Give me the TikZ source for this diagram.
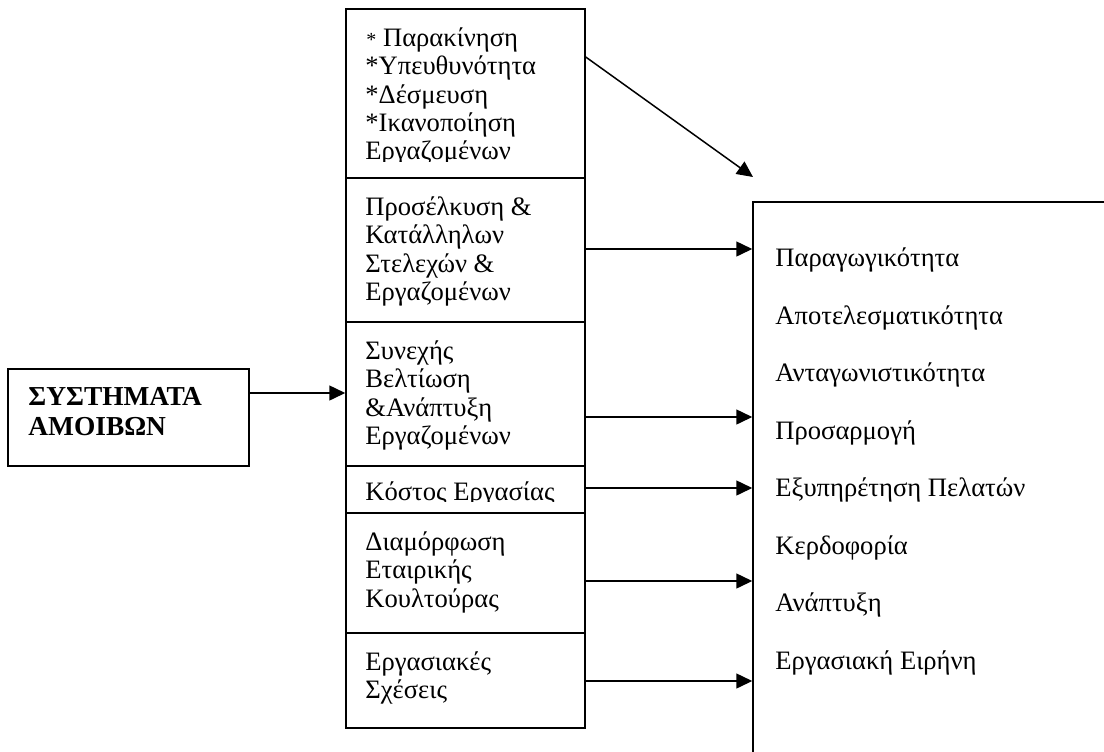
\documentclass[tikz,border=0pt]{standalone}
\usepackage{fontspec}
\setmainfont{Liberation Serif}
\usetikzlibrary{arrows.meta,fit}
\begin{document}
\begin{tikzpicture}[x=0.5pt,y=-0.5pt,
  box/.style={draw,line width=0.75pt,inner sep=0pt},
  txt/.style={anchor=base west,inner sep=0pt,font=\fontsize{13.3}{15}\selectfont},
  btxt/.style={anchor=base west,inner sep=0pt,font=\fontsize{13.7}{15}\selectfont\bfseries},
  arr/.style={line width=0.75pt,-{Triangle[length=8pt,width=7.5pt]}}]
\useasboundingbox (0,0) rectangle (1104,751);
\fill[white] (0,0) rectangle (1104,751);
\clip (0,0) rectangle (1104,751);

% left box
\node[box,fit={(8,369) (249,466)}] (sys) {};
\node[btxt] (s1) at (28,405) {ΣΥΣΤΗΜΑΤΑ};
\node[btxt] (s2) at (28,435) {ΑΜΟΙΒΩΝ};

% middle cells
\node[box,fit={(346,9) (585,178)}] (c1) {};
\node[box,fit={(346,178) (585,322)}] (c2) {};
\node[box,fit={(346,322) (585,466)}] (c3) {};
\node[box,fit={(346,466) (585,513)}] (c4) {};
\node[box,fit={(346,513) (585,633)}] (c5) {};
\node[box,fit={(346,633) (585,728)}] (c6) {};

\node[txt] (c1t1) at (366,46.5) {{\fontsize{10}{12}\selectfont*} Παρακίνηση};
\foreach \t [count=\i from 2] in {*Υπευθυνότητα,*Δέσμευση,*Ικανοποίηση}
  \node[txt] (c1t\i) at (365,{46.5+28.3*(\i-1)}) {\t};
\begin{scope}
  \clip (346,140) rectangle (585,161.5);
  \node[txt] (c1t5) at (365,159.7) {Εργαζομένων};
\end{scope}
\foreach \t [count=\i] in {Προσέλκυση \&,Κατάλληλων,Στελεχών \&,Εργαζομένων}
  \node[txt] (c2t\i) at (365,{215.5+28.3*(\i-1)}) {\t};
\foreach \t [count=\i] in {Συνεχής,Βελτίωση,\&Ανάπτυξη,Εργαζομένων}
  \node[txt] (c3t\i) at (365,{359.5+28.3*(\i-1)}) {\t};
\begin{scope}
  \clip (346,470) rectangle (585,501.5);
  \node[txt] (c4t1) at (365,500) {Κόστος Εργασίας};
\end{scope}
\foreach \t [count=\i] in {Διαμόρφωση,Εταιρικής,Κουλτούρας}
  \node[txt] (c5t\i) at (365,{550.5+28.3*(\i-1)}) {\t};
\foreach \t [count=\i] in {Εργασιακές,Σχέσεις}
  \node[txt] (c6t\i) at (365,{670.5+28.3*(\i-1)}) {\t};

% right box
\node[box,fit={(753,202) (1130,780)}] (R) {};
\foreach \t [count=\i] in {Παραγωγικότητα,Αποτελεσματικότητα,Ανταγωνιστικότητα,Προσαρμογή,Εξυπηρέτηση Πελατών,Κερδοφορία,Ανάπτυξη,Εργασιακή Ειρήνη}
  \node[txt] (r\i) at (775,{266.7+57.5*(\i-1)}) {\t};

% connectors
\coordinate (y0) at (0,393);
\coordinate (y1) at (0,57);
\coordinate (tip) at (753,177);
\coordinate (y2) at (0,249);
\coordinate (y3) at (0,417);
\coordinate (y4) at (0,488);
\coordinate (y5) at (0,581);
\coordinate (y6) at (0,681);
\draw[arr] (sys.east |- y0) -- (c3.west |- y0);
\draw[arr] (c1.east |- y1) -- (tip);
\draw[arr] (c2.east |- y2) -- (R.west |- y2);
\draw[arr] (c3.east |- y3) -- (R.west |- y3);
\draw[arr] (c4.east |- y4) -- (R.west |- y4);
\draw[arr] (c5.east |- y5) -- (R.west |- y5);
\draw[arr] (c6.east |- y6) -- (R.west |- y6);
\end{tikzpicture}
\end{document}
